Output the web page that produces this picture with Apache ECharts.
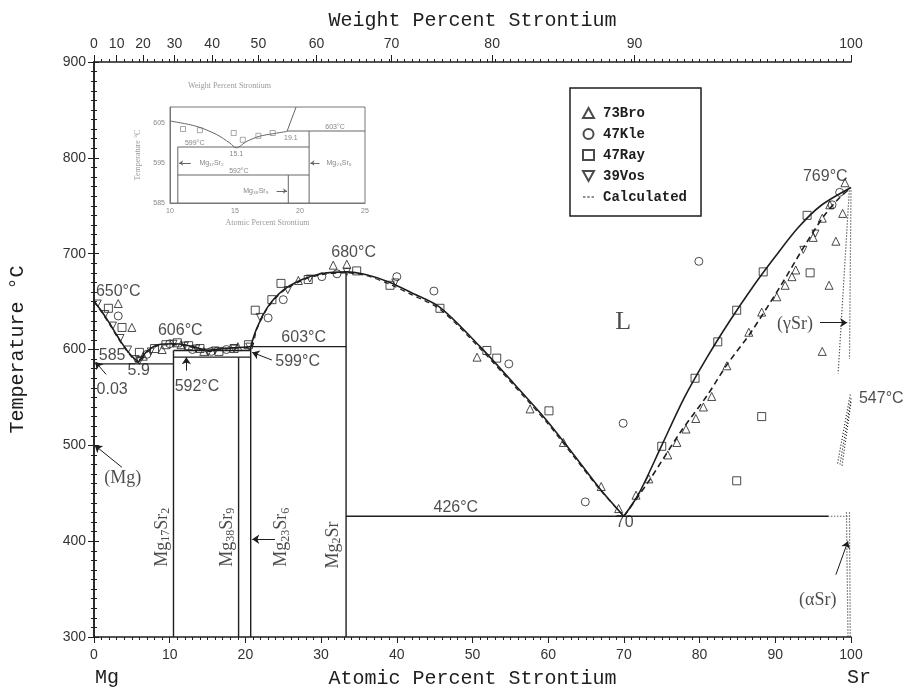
<!DOCTYPE html>
<html>
<head>
<meta charset="utf-8">
<script src="https://cdn.jsdelivr.net/npm/echarts@6/dist/echarts.min.js"></script>
<style>
  html, body { margin: 0; padding: 0; background: #fff; }
  #main { width: 904px; height: 688px; }
</style>
</head>
<body>
<div id="main"></div>
<script>
// Mg-Sr phase diagram (atomic % Sr vs temperature)

// liquidus
var liqMg = [[0,650],[1,640],[2,628],[3,615],[4,603],[5,593],[5.9,587]];
var liqMid = [[5.9,587],[7,598],[8.5,605],[10.5,606],[12,605],[13.5,602],[15.1,599],[17,601],[19,602],[20.7,603]];
var liqMg2Sr = [[20.7,603],[21.5,622],[23,645],[25,662],[27.5,673],[30,679],[33.3,681],[36,678],[39.1,670],[42,659],[45.7,644],[51,603],[55.4,565],[59.8,526],[63.3,491],[66.8,455],[70,426]];
var liqSr = [[70,426],[72,450],[75,500],[78,550],[81,592],[84,630],[87,665],[90,697],[93,727],[96,750],[100,769]];

// calculated (dashed)
var calcLeft = [[0,650],[1,639],[2,627],[3,614],[4,602],[5,592],[5.9,586],[7,597],[8.5,604],[10.5,605],[12,604],[13.5,601],[15.1,598],[17,600],[19,602],[20.7,602],[21.5,621],[23,644],[25,661],[27.5,672],[30,678],[33.3,680],[36,677],[39.1,668],[42,657],[45.7,642],[51,601],[55.4,563],[59.8,524],[63.3,489],[66.8,454],[70,426]];
var calcSr = [[70,426],[73.4,464],[77.4,513],[81,552],[83.6,584],[86.7,617],[90.6,665],[93.7,706],[96.3,738],[98.2,756],[100,769]];

// invariant lines and compound lines
var solidSegs = [
  [[0,585],[10.5,585]],
  [[10.5,599],[20.7,599]],
  [[10.5,592],[20.7,592]],
  [[20.7,603],[33.3,603]],
  [[33.3,426],[97,426]],
  [[10.5,300],[10.5,599]],
  [[19.1,300],[19.1,592]],
  [[20.7,300],[20.7,603]],
  [[33.3,300],[33.3,681]]
];
var dottedSegs = [
  [[97,426],[99.6,426]],
  [[99.8,769],[98.3,575]],
  [[100,766],[99.8,590]],
  [[99.9,553],[98.2,480]],
  [[100,549],[98.5,478]],
  [[100,545],[98.8,478]],
  [[99.4,430],[99.6,300]],
  [[99.8,430],[99.9,300]]
];

// experimental points
var bro73 = [[3.2,648],[5.0,623],[6.5,593],[9,600],[11.5,605],[14.5,598],[19,603],[27,672],[31.6,688],[33.4,689],[50.6,592],[57.6,538],[62,503],[67,457],[69.3,434],[71.6,448],[73.3,465],[75.8,490],[77,503],[78.2,517],[79.5,528],[80.5,540],[81.6,551],[83.6,583],[86.5,618],[88.2,639],[90.2,655],[91.3,667],[92.2,676],[92.7,683],[95,717],[96.2,737],[97.2,751],[98.9,742],[98,713],[97.1,667],[96.2,598],[99.2,774]];
var kle47 = [[3.2,635],[7,595],[10,606],[13,600],[15.5,598],[17.5,600],[23,633],[25,652],[30.1,676],[32.1,679],[40,676],[44.9,661],[54.8,585],[64.9,441],[69.9,523],[79.9,692],[97.5,751],[98.5,764]];
var ray47 = [[1.9,643],[3.7,623],[6,597],[8,601],[9.5,605],[11,607],[12.5,604],[14,601],[16.5,598],[18.5,601],[20.4,605],[21.3,641],[23.5,652],[24.7,669],[28.3,673],[34.7,682],[39.1,667],[45.7,643],[51.9,599],[53.2,591],[60.1,536],[75,499],[79.4,570],[82.4,608],[84.9,641],[84.9,463],[88.2,530],[88.4,681],[94.2,740],[94.6,680]];
var vos39 = [[0.5,648],[1.5,637],[2.5,625],[3.5,612],[4.5,600],[5.5,590],[6,588],[7.5,598],[10.5,606],[12,604],[13.5,601],[15.1,597],[16,599],[18.5,601],[20.5,603],[21.9,634],[25.6,662],[28.5,674],[33.4,681],[39.8,670],[93.7,704],[95.3,721]];

// axes
var wtTicks = [0,10,20,30,40,50,60,70,80,90,100];
var M_MG = 24.305, M_SR = 87.62;
function wtToAt(w) {
  if (w >= 100) return 100;
  var a = w / M_SR, b = (100 - w) / M_MG;
  return 100 * a / (a + b);
}
var wtPos = wtTicks.map(wtToAt);

// text annotations [label, at%, T]
var notes = [
  ['650°C', 3.2, 660], ['606°C', 11.4, 620], ['585', 2.4, 594], ['5.9', 5.9, 578],
  ['0.03', 2.4, 558], ['592°C', 13.6, 561], ['599°C', 26.9, 587], ['603°C', 27.7, 612],
  ['680°C', 34.3, 701], ['426°C', 47.8, 435], ['70', 70.1, 419], ['769°C', 96.6, 780],
  ['547°C', 104, 549]
];
var serifNotes = [['(γSr)', 92.6, 626], ['(αSr)', 95.6, 338], ['(Mg)', 3.8, 466]];
var phases = [
  ['{m|Mg}{s|17}{m|Sr}{s|2}', 9.0, 404],
  ['{m|Mg}{s|38}{m|Sr}{s|9}', 17.6, 404],
  ['{m|Mg}{s|23}{m|Sr}{s|6}', 24.8, 404],
  ['{m|Mg}{s|2}{m|Sr}', 31.6, 396]
];
var arrows = [
  [[1.6,574],[0.2,587]],
  [[12.2,578],[12.2,592]],
  [[23.5,589],[20.9,597]],
  [[23.9,402],[20.9,402]],
  [[3.7,477],[0.1,500]],
  [[95.9,628],[99.5,628]],
  [[98.0,365],[99.6,400]]
];

// inset (enlarged Mg-rich region)
var inLiq = [[10,605.5],[12,604.2],[13.6,602.1],[14.6,600],[15.1,598.8],[15.9,600.4],[16.9,601.7],[17.9,602.3],[19,602.9]];
var inSegs = [
  [[19,602.9],[19.7,609]],
  [[10.6,599],[20.7,599]],
  [[10.6,592],[20.7,592]],
  [[19,603],[25,603]],
  [[10.6,585],[10.6,599]],
  [[19.1,585],[19.1,592]],
  [[20.7,585],[20.7,603]]
];
var inPts = [[11,603.5],[12.3,603.2],[14.9,602.5],[15.6,600.8],[16.8,601.8],[17.9,602.5]];
var inNotes = [
  ['599°C', 11.9, 600], ['15.1', 15.1, 597.2], ['Mg₁₇Sr₂', 13.2, 595], ['592°C', 15.3, 593],
  ['603°C', 22.7, 604], ['19.1', 19.3, 601.3], ['Mg₃₈Sr₉', 16.6, 588], ['Mg₂₃Sr₆', 23, 595]
];
var inArrows = [
  [[11.6,595],[10.7,595]],
  [[18.2,588],[19.0,588]],
  [[21.5,595],[20.8,595]]
];
var inYTicks = [585, 595, 605];

var INK = '#1e1e1e';
var chart = echarts.init(document.getElementById('main'));

function lineSer(data, o) {
  o = o || {};
  return {
    type: 'line', name: o.name, data: data, symbol: 'none', showSymbol: false,
    smooth: o.smooth || false, silent: true, animation: false,
    xAxisIndex: o.xi || 0, yAxisIndex: o.yi || 0, z: o.z || 3,
    itemStyle: { color: o.color || INK },
    lineStyle: { color: o.color || INK, width: o.width || 1.4, type: o.type || 'solid' }
  };
}
function pts(name, data, symbol, size) {
  return {
    type: 'scatter', name: name, data: data, symbol: symbol, symbolSize: size || 8,
    animation: false, z: 5,
    itemStyle: { color: 'rgba(255,255,255,0)', borderColor: INK, borderWidth: 1 }
  };
}
function textSer(items, style, xi, yi) {
  return {
    type: 'scatter', symbolSize: 0, silent: true, clip: false, animation: false, z: 6,
    xAxisIndex: xi || 0, yAxisIndex: yi || 0,
    data: items.map(function (n) { return { name: n[0], value: [n[1], n[2]] }; }),
    label: Object.assign({ show: true, position: 'inside', formatter: '{b}', color: INK }, style)
  };
}
function arrowSer(list, xi, yi, color, size) {
  return {
    type: 'lines', coordinateSystem: 'cartesian2d', xAxisIndex: xi || 0, yAxisIndex: yi || 0,
    symbol: ['none', 'arrow'], symbolSize: size || 7, silent: true, animation: false, z: 6,
    lineStyle: { color: color || INK, width: 1, opacity: 1 },
    data: list.map(function (c) { return { coords: c }; })
  };
}

var series = [];
[liqMg, liqMid, liqMg2Sr, liqSr].forEach(function (d) {
  series.push(lineSer(d, { smooth: 0.3, width: 1.6 }));
});
series.push(lineSer(calcLeft, { smooth: 0.3, width: 1.2, type: [5, 4], name: 'Calculated' }));
series.push(lineSer(calcSr, { smooth: 0.3, width: 1.6, type: [6, 4], name: 'Calculated' }));
solidSegs.forEach(function (d) { series.push(lineSer(d, { width: 1.4 })); });
dottedSegs.forEach(function (d) { series.push(lineSer(d, { width: 1.2, type: [1, 2] })); });

series.push(pts('73Bro', bro73, 'triangle', 8));
series.push(pts('47Kle', kle47, 'circle', 8));
series.push(pts('47Ray', ray47, 'rect', 8));
series.push(pts('39Vos', vos39, 'path://M0,0L10,0L5,9Z', 7));

series.push(textSer(notes, { fontFamily: 'Liberation Sans', fontSize: 16 }));
series.push(textSer(serifNotes, { fontFamily: 'Liberation Serif', fontSize: 18 }));
series.push(textSer([['L', 69.9, 629]], { fontFamily: 'Liberation Serif', fontSize: 26 }));
series.push(textSer(phases, {
  rotate: 90,
  rich: {
    m: { fontFamily: 'Liberation Serif', fontSize: 18, color: INK },
    s: { fontFamily: 'Liberation Serif', fontSize: 12, color: INK, verticalAlign: 'bottom', padding: [8, 0, 0, 0] }
  }
}));
series.push(arrowSer(arrows));

// inset series
series.push(lineSer(inLiq, { smooth: 0.3, xi: 3, yi: 2, color: '#666', width: 1 }));
inSegs.forEach(function (d) { series.push(lineSer(d, { xi: 3, yi: 2, color: '#666', width: 1 })); });
series.push({
  type: 'scatter', data: inPts, xAxisIndex: 3, yAxisIndex: 2, symbolSize: 5, symbol: 'rect',
  animation: false, itemStyle: { color: 'rgba(255,255,255,0)', borderColor: '#777', borderWidth: 0.8 }
});
series.push(textSer(inNotes, { fontFamily: 'Liberation Sans', fontSize: 7, color: '#666' }, 3, 2));
series.push(arrowSer(inArrows, 3, 2, '#666', 4));

var tickFont = { fontFamily: 'Liberation Sans', fontSize: 14, color: '#333' };
var titleFont = { fontFamily: 'Liberation Mono', fontSize: 20, color: INK };
var axLine = { show: true, lineStyle: { color: INK, width: 1.5 } };

chart.setOption({
  backgroundColor: '#fff',
  animation: false,
  grid: [
    { left: 94, top: 62, width: 757, height: 575, outerBoundsMode: 'none', containLabel: false },
    { left: 170, top: 107, width: 195, height: 96, show: true, borderColor: '#777', borderWidth: 1, outerBoundsMode: 'none', containLabel: false }
  ],
  legend: {
    data: [
      { name: '73Bro', icon: 'triangle' },
      { name: '47Kle', icon: 'circle' },
      { name: '47Ray', icon: 'rect' },
      { name: '39Vos', icon: 'path://M0,0L10,0L5,9Z' },
      { name: 'Calculated', icon: 'path://M0,4h4v1.6h-4z M7,4h4v1.6h-4z M14,4h4v1.6h-4z' }
    ],
    orient: 'vertical', left: 570, top: 88,
    itemWidth: 11, itemHeight: 10, itemGap: 7,
    padding: [18, 14, 12, 12],
    borderColor: INK, borderWidth: 1.5, backgroundColor: '#fff',
    selectedMode: false,
    textStyle: { fontFamily: 'Liberation Mono', fontSize: 14, fontWeight: 'bold', color: INK, padding: [0, 0, 0, 4] }
  },
  xAxis: [
    {
      type: 'value', gridIndex: 0, position: 'bottom', min: 0, max: 100, interval: 10,
      axisLine: axLine, splitLine: { show: false },
      axisTick: { length: 6, lineStyle: { color: INK } },
      minorTick: { show: true, splitNumber: 10, length: 3, lineStyle: { color: INK } },
      axisLabel: Object.assign({ margin: 11 }, tickFont),
      name: 'Atomic Percent Strontium', nameLocation: 'middle', nameGap: 32, nameTextStyle: titleFont
    },
    {
      type: 'value', gridIndex: 0, position: 'top', min: 0, max: 100, interval: 1,
      axisLine: axLine, splitLine: { show: false },
      axisTick: { length: 3, lineStyle: { color: INK } },
      axisLabel: Object.assign({
        margin: 11, customValues: wtPos,
        formatter: function (v) {
          for (var i = 0; i < wtPos.length; i++) if (Math.abs(wtPos[i] - v) < 1e-6) return String(wtTicks[i]);
          return '';
        }
      }, tickFont),
      name: 'Weight Percent Strontium', nameLocation: 'middle', nameGap: 31, nameTextStyle: titleFont
    },
    {
      type: 'value', gridIndex: 0, position: 'top', min: 0, max: 100,
      axisLine: { show: false }, splitLine: { show: false }, axisLabel: { show: false },
      axisTick: { show: true, length: 7, customValues: wtPos, lineStyle: { color: INK } }
    },
    {
      type: 'value', gridIndex: 1, min: 10, max: 25, interval: 5,
      axisLine: { lineStyle: { color: '#777' } }, splitLine: { show: false },
      axisTick: { show: false },
      axisLabel: { fontFamily: 'Liberation Sans', fontSize: 7, color: '#888', margin: 5 },
      name: 'Atomic Percent Strontium', nameLocation: 'middle', nameGap: 16,
      nameTextStyle: { fontFamily: 'Liberation Serif', fontSize: 8, color: '#999' }
    }
  ],
  yAxis: [
    {
      type: 'value', gridIndex: 0, position: 'left', min: 300, max: 900, interval: 100,
      axisLine: axLine, splitLine: { show: false },
      axisTick: { length: 6, lineStyle: { color: INK } },
      minorTick: { show: true, splitNumber: 10, length: 3, lineStyle: { color: INK } },
      axisLabel: Object.assign({ margin: 8 }, tickFont),
      name: 'Temperature °C', nameLocation: 'middle', nameGap: 66, nameTextStyle: titleFont
    },
    {
      type: 'value', gridIndex: 0, position: 'right', min: 300, max: 900, interval: 100,
      axisLine: axLine, splitLine: { show: false }, axisLabel: { show: false },
      axisTick: { length: 5, lineStyle: { color: INK } },
      minorTick: { show: true, splitNumber: 10, length: 3, lineStyle: { color: INK } }
    },
    {
      type: 'value', gridIndex: 1, min: 585, max: 609,
      axisLine: { lineStyle: { color: '#777' } }, splitLine: { show: false },
      axisTick: { show: false },
      axisLabel: { customValues: inYTicks, fontFamily: 'Liberation Sans', fontSize: 7, color: '#888', margin: 5 },
      name: 'Temperature °C', nameLocation: 'middle', nameGap: 28,
      nameTextStyle: { fontFamily: 'Liberation Serif', fontSize: 8, color: '#999' }
    }
  ],
  graphic: [
    { type: 'text', left: 95, top: 668, style: { text: 'Mg', font: '20px "Liberation Mono"', fill: INK } },
    { type: 'text', left: 847, top: 668, style: { text: 'Sr', font: '20px "Liberation Mono"', fill: INK } },
    { type: 'text', left: 188, top: 82, style: { text: 'Weight Percent Strontium', font: '8px "Liberation Serif"', fill: '#999' } }
  ],
  series: series
});
</script>
</body>
</html>
